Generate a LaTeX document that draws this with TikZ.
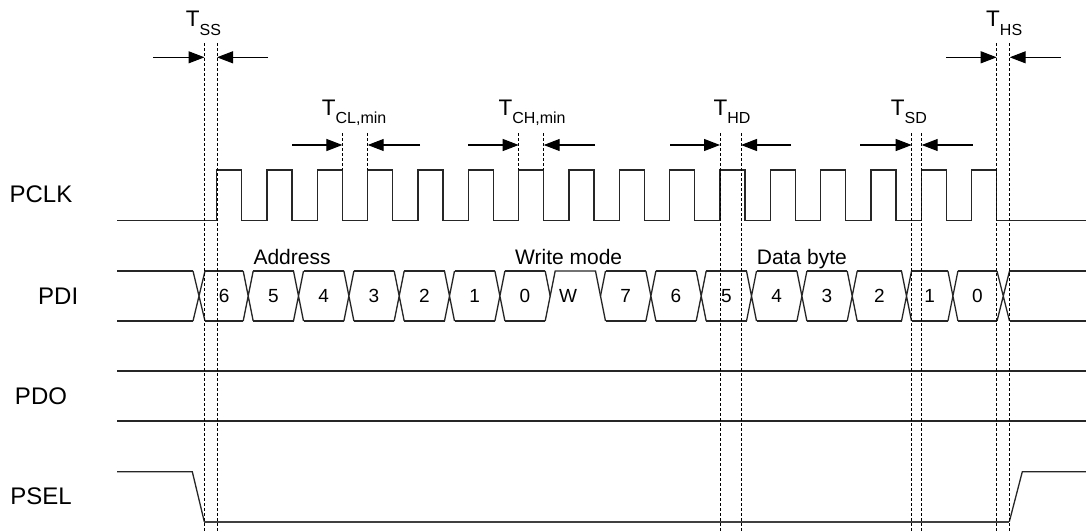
\documentclass[tikz,border=0pt]{standalone}
\usepackage{fontspec}
\setmainfont{Liberation Sans}
\usetikzlibrary{arrows.meta}
\tikzset{
  sig/.style={line width=1.3pt, draw=black!85, line join=miter},
  psellow/.style={line width=1.9pt, draw=black!75},
  dsh/.style={line width=0.9pt, draw=black, dash pattern=on 3pt off 2pt},
  dimarr/.style={line width=1.1pt, draw=black, -{Triangle[length=16pt,width=12pt]}},
  siglabel/.style={inner sep=0pt, font=\fontsize{24}{24}\selectfont},
  dig/.style={inner sep=0pt, font=\fontsize{19}{19}\selectfont},
  grp/.style={inner sep=0pt, anchor=base west, font=\fontsize{21}{21}\selectfont},
  tlab/.style={inner sep=0pt, anchor=base west, font=\fontsize{22.5}{22.5}\selectfont},
}
\newcommand{\subtxt}[1]{\raisebox{-8.5pt}{\fontsize{16}{16}\selectfont #1}}
\begin{document}
\begin{tikzpicture}[x=1pt,y=-1pt]
\useasboundingbox (0,0) rectangle (1086,531);

% ---- signal names
\node[siglabel] (lpclk) at (41,194) {PCLK};
\node[siglabel, anchor=west] (lpdi) at (38,296) {PDI};
\node[siglabel] (lpdo) at (41,396) {PDO};
\node[siglabel] (lpsel) at (41,496.7) {PSEL};

% ---- PCLK
\draw[sig] (117,220.7) foreach \k in {0,...,15}{ -- ({216.7+50.333*\k},220.7) -- ++(0,-50.7) -- ++(25,0) -- ++(0,50.7) } -- (1086,220.7);

% ---- PDI bus
\def\yt{271}\def\yb{321}\def\ym{296}
\foreach \a/\b in {193/205, 243.2/253.2, 293.5/303.5, 343.9/353.9, 394.2/404.2, 444.5/454.5, 494.9/504.9, 645.9/655.9, 696.2/706.2, 746.5/756.5, 796.9/806.9, 847.2/857.2, 901.5/911.5, 947.9/957.9, 997/1009.5}
  \draw[sig] (\a,\yt) -- (\b,\yb) (\a,\yb) -- (\b,\yt);
\foreach \s/\e in {117/193, 205/243.2, 253.2/293.5, 303.5/343.9, 353.9/394.2, 404.2/444.5, 454.5/494.9, 504.9/545.2, 605.5/645.9, 655.9/696.2, 706.2/746.5, 756.5/796.9, 806.9/847.2, 857.2/901.5, 911.5/947.9, 957.9/997, 1009.5/1086}
  \draw[sig] (\s,\yt) -- (\e,\yt) (\s,\yb) -- (\e,\yb);
% W segment: top line only
\draw[sig] (545.2,\yb) -- (555.2,\yt) -- (595.5,\yt) -- (605.5,\yb);
\draw[sig] (545.2,\yt) -- (550.2,\ym);
\draw[sig] (600.5,\ym) -- (605.5,\yt);

\foreach \x/\t [count=\i] in {224.1/6, 273.4/5, 323.7/4, 374/3, 424.4/2, 474.7/1, 525/0, 568/W, 625.7/7, 676/6, 726.3/5, 776.7/4, 827/3, 879.4/2, 929.7/1, 977.5/0}
  \node[dig] (bit\i) at (\x,\ym) {\t};

\node[grp] (gaddr) at (253.3,264.5) {Address};
\node[grp] (gwm) at (515,264.5) {Write mode};
\node[grp] (gdb) at (756.7,264.5) {Data byte};

% ---- PDO
\draw[sig] (117,371) -- (1086,371);
\draw[sig] (117,421) -- (1086,421);

% ---- PSEL
\draw[sig] (117,471.7) -- (192.3,471.7) -- (204.3,521.7);
\draw[psellow] (204.3,521.7) -- (1009.3,521.7);
\draw[sig] (1009.3,521.7) -- (1022.3,471.7) -- (1086,471.7);

% ---- dashed timing lines
\foreach \x in {204.5, 217, 996.7, 1009.7} \draw[dsh] (\x,43) -- (\x,531);
\foreach \x in {720, 741, 911.7, 921.7} \draw[dsh] (\x,133) -- (\x,531);
\foreach \x in {342.4, 367.7, 518.7, 543.7} \draw[dsh] (\x,133) -- (\x,170);

% ---- dimension arrows
\draw[dimarr] (153,57.3) -- (204.5,57.3);
\draw[dimarr] (268,57.3) -- (217,57.3);
\draw[dimarr] (292,145) -- (342.4,145);
\draw[dimarr] (420,145) -- (367.7,145);
\draw[dimarr] (468,145) -- (518.7,145);
\draw[dimarr] (595,145) -- (543.7,145);
\draw[dimarr] (670,145) -- (720,145);
\draw[dimarr] (791,145) -- (741,145);
\draw[dimarr] (860,145) -- (911.7,145);
\draw[dimarr] (972.7,145) -- (921.7,145);
\draw[dimarr] (946,57.3) -- (996.7,57.3);
\draw[dimarr] (1060.7,57.3) -- (1009.7,57.3);

% ---- timing labels
\node[tlab] (tss) at (185.7,26.7) {T\subtxt{SS}};
\node[tlab] (tcl) at (321.7,115) {T\subtxt{CL,min}};
\node[tlab] (tch) at (498.3,115) {T\subtxt{CH,min}};
\node[tlab] (thd) at (713.3,115) {T\subtxt{HD}};
\node[tlab] (tsd) at (890.7,115) {T\subtxt{SD}};
\node[tlab] (ths) at (986,26.7) {T\subtxt{HS}};
\end{tikzpicture}
\end{document}
